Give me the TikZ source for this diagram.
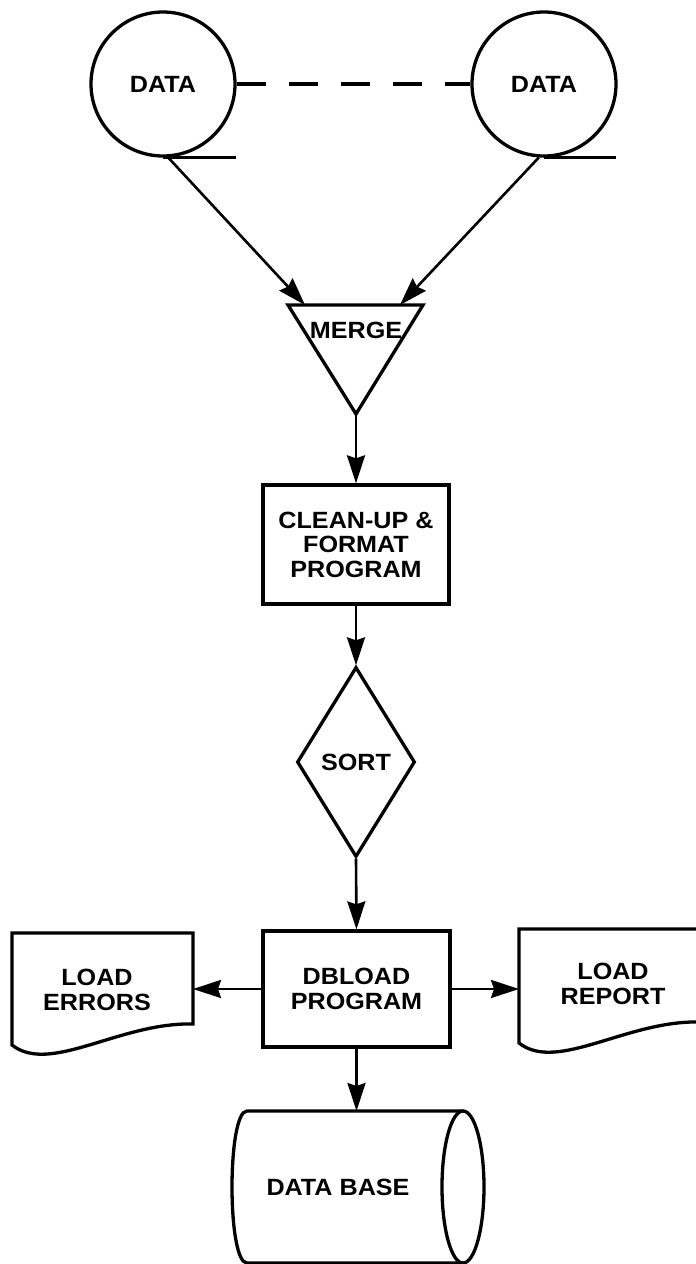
\documentclass[tikz,border=0pt]{standalone}
\usepackage{fontspec}
\setmainfont{Liberation Sans}[FakeStretch=1.07]
\usetikzlibrary{arrows.meta,shapes.geometric}
\begin{document}
\begin{tikzpicture}[x=1pt,y=-1pt,
  lbl/.style={font=\fontsize{23.5}{24.5}\selectfont\bfseries, align=center, inner sep=0pt},
  shp/.style={draw, line width=3.3pt, line join=miter},
  arr/.style={line width=2.6pt, -{Stealth[length=28pt,width=18pt,inset=3pt]}},
]
\useasboundingbox (0,0) rectangle (696,1264);
\clip (0,0) rectangle (696,1264);

% tapes
\node[shp,circle,minimum size=144pt,lbl] (d1) at (163,84) {DATA};
\node[shp,circle,minimum size=144pt,lbl] (d2) at (544,84) {DATA};
\draw[line width=3.6pt] (d1.south) -- ++(73,0);
\draw[line width=3.6pt] (d2.south) -- ++(72,0);
\draw[line width=3.2pt, dash pattern=on 29pt off 23pt] (d1.east) -- (d2.west);

% merge
\coordinate (mA) at (288,305);
\coordinate (mB) at (423,305);
\coordinate (mC) at (356,414);
\draw[shp] (mA) -- (mB) -- (mC) -- cycle;
\node[lbl] (mt) at (356,330) {MERGE};
\coordinate (mI1) at (305,305);
\coordinate (mI2) at (400,305);
\draw[arr] (d1.-86) -- (mI1);
\draw[arr] (d2.-94) -- (mI2);

% clean-up
\node[shp,rectangle,minimum width=186pt,minimum height=119pt,lbl] (b1) at (356,544.5) {CLEAN-UP \&\\FORMAT\\PROGRAM};
\draw[arr] (mC) -- (b1.north);

% sort
\node[shp,diamond,minimum width=118pt,minimum height=190pt,lbl] (s) at (356,762) {SORT};
\draw[arr] (b1.south) -- (s.north);

% dbload
\node[shp,rectangle,minimum width=187pt,minimum height=116pt,lbl] (b2) at (356.5,989) {DBLOAD\\PROGRAM};
\draw[arr] (s.south) -- (b2.north);

% load errors document
\draw[shp] (193,1024) .. controls (120,1022) and (50,1075) .. (12,1045) -- (12,933) -- (193,933) -- cycle;
\node[lbl] (e1) at (97,990) {LOAD\\ERRORS};
\coordinate (e1p) at (193,989);
\draw[arr] (b2.west) -- (e1p);

% load report document
\draw[shp] (700,1022) .. controls (627,1020) and (557,1073) .. (519,1043) -- (519,929) -- (700,929) -- cycle;
\node[lbl] (r1) at (613,984) {LOAD\\REPORT};
\coordinate (r1p) at (519,989);
\draw[arr] (b2.east) -- (r1p);

% data base cylinder
\coordinate (cT) at (356.5,1111);
\draw[shp] (463,1111) -- (247,1111) .. controls (227,1111) and (227,1263) .. (247,1263) -- (463,1263);
\draw[shp] (463,1187) ellipse [x radius=21pt, y radius=76pt];
\node[lbl] (db) at (338,1187) {DATA BASE};
\draw[arr] (b2.south) -- (cT);
\end{tikzpicture}
\end{document}
